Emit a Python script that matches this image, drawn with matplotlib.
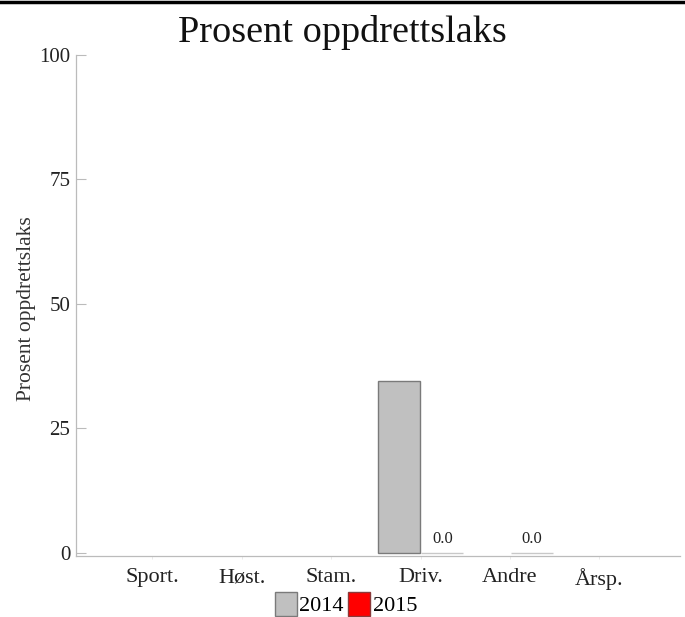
import numpy as np
import matplotlib
matplotlib.use("Agg")
import matplotlib.pyplot as plt
from matplotlib.patches import Patch
from matplotlib.lines import Line2D

categories = ['Sport.', 'Høst.', 'Stam.', 'Driv.', 'Andre', 'Årsp.']
v2014 = [np.nan, np.nan, np.nan, 34.6, np.nan, np.nan]
v2015 = [np.nan, np.nan, np.nan, 0.0, 0.0, np.nan]
series_names = ['2014', '2015']
yticks = [0, 25, 50, 75, 100]

plt.rcParams['font.family'] = ['Liberation Serif', 'DejaVu Serif']

fig = plt.figure(figsize=(6.85, 6.17), dpi=100)
ax = fig.add_axes([0.1110, 0.0989, 0.8817, 0.8121])

x = np.arange(len(categories))
w = 0.47
off = 0.245
ax.bar(x - off, v2014, width=w, color='#c0c0c0', edgecolor='#7a7a7a', linewidth=1.0)
ax.bar(x + off, v2015, width=w, color='#ff0000', edgecolor='#c8c8c8', linewidth=1.0)

for xi, v in zip(x, v2015):
    if not np.isnan(v):
        ax.annotate(f"{v:.1f}", (xi + off, v), xytext=(0, 4), textcoords='offset points',
                    ha='center', va='bottom', fontsize=12, color='#222222')

ax.set_xlim(-0.85, 5.9)
ax.set_ylim(-0.6, 100)
ax.set_xticks(x)
ax.set_xticklabels(categories, fontsize=16, color='#222222')
ax.set_yticks(yticks)
ax.set_yticklabels([str(t) for t in yticks], fontsize=15, color='#222222')
ax.tick_params(axis='y', direction='in', length=7, width=0.8, color='#bbbbbb', pad=4)
ax.tick_params(axis='x', length=2, width=0.6, color='#e6e6e6', pad=7)
for s in ['top', 'right']:
    ax.spines[s].set_visible(False)
for s in ['left', 'bottom']:
    ax.spines[s].set_color('#bbbbbb')
    ax.spines[s].set_linewidth(0.9)

fig.text(27 / 685, (617 - 309) / 617, 'Prosent oppdrettslaks', rotation=90,
         ha='center', va='center', fontsize=15.5, color='#333333')
fig.suptitle('Prosent oppdrettslaks', fontsize=27.5, y=0.975, color='#111111')

handles = [Patch(facecolor='#c0c0c0', edgecolor='#7a7a7a'),
           Patch(facecolor='#ff0000', edgecolor='#8a3a3a')]
fig.legend(handles, series_names, loc='center', bbox_to_anchor=(0.505, 0.021), ncol=2,
           frameon=False, fontsize=16, handlelength=1.0, handleheight=1.3,
           handletextpad=0.1, columnspacing=0.2, borderpad=0)

fig.add_artist(Line2D([0, 1], [0.9965, 0.9965], color='black', linewidth=2.5, transform=fig.transFigure))

fig.savefig('out.png', dpi=100, facecolor='white')
